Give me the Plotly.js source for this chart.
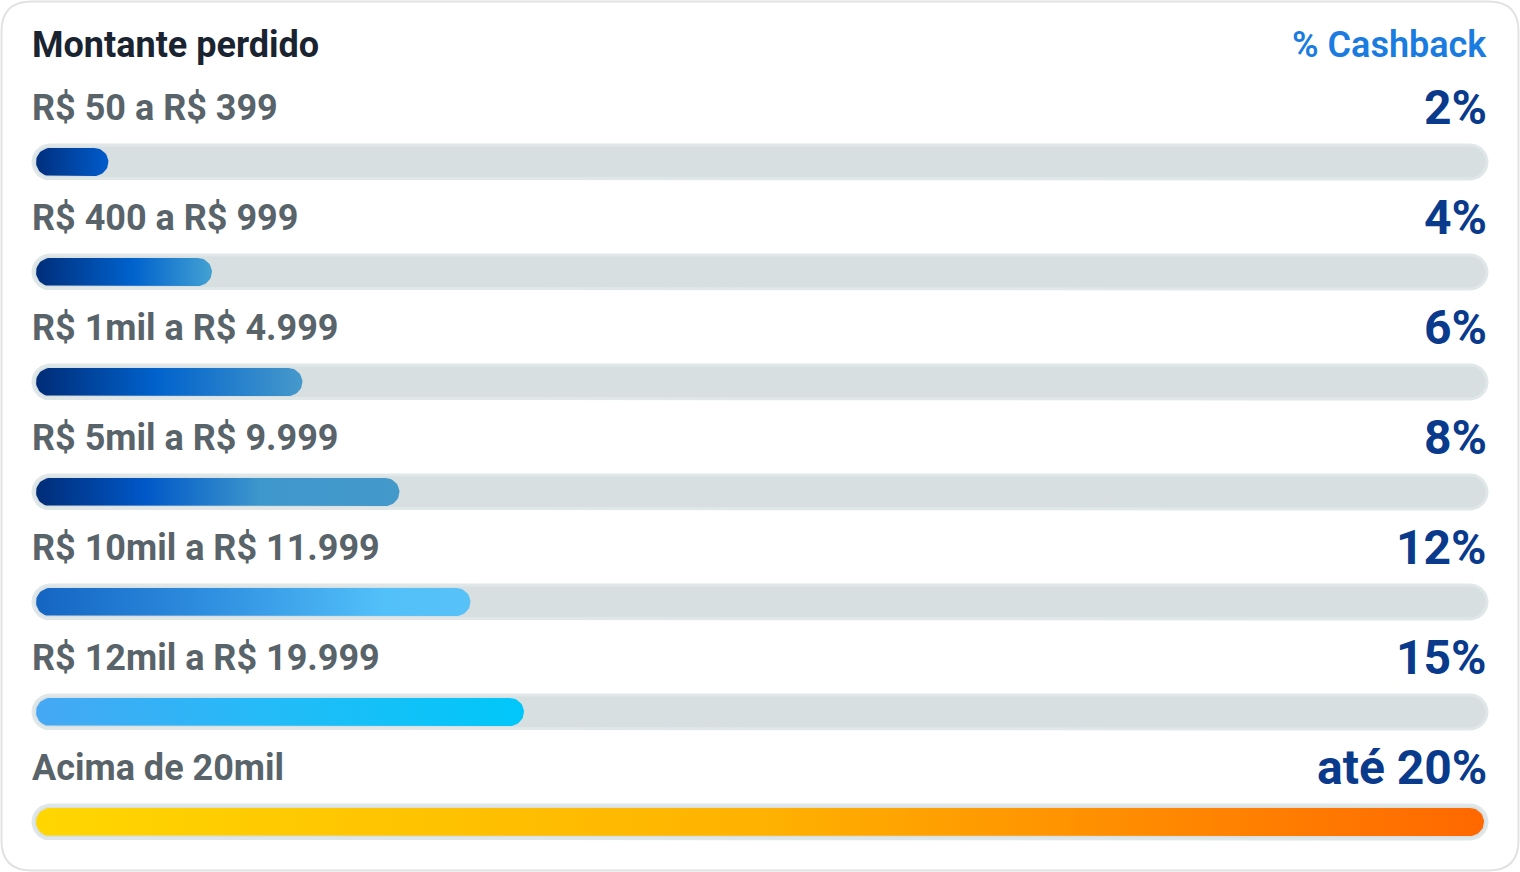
<!DOCTYPE html>
<html>
<head>
<meta charset="utf-8">
<script src="https://cdn.plot.ly/plotly-3.0.1.min.js"></script>
<style>
html,body{margin:0;padding:0;background:#ffffff;}
#chart{width:1520px;height:872px;}
</style>
</head>
<body>
<div id="chart"></div>
<script>
// ---- data ----
const categories = ['R$ 50 a R$ 399','R$ 400 a R$ 999','R$ 1mil a R$ 4.999','R$ 5mil a R$ 9.999','R$ 10mil a R$ 11.999','R$ 12mil a R$ 19.999','Acima de 20mil'];
const cashbackLabels = ['2%','4%','6%','8%','12%','15%','até 20%'];
const fillValues = [5.0, 12.15, 18.4, 25.1, 30.0, 33.7, 100];
const headerLeft = 'Montante perdido';
const headerRight = '% Cashback';
const barScales = [
  [[0,'#002f7e'],[1,'#005ccc']],
  [[0,'#002e7b'],[0.55,'#0062cd'],[1,'#43a1d2']],
  [[0,'#002c77'],[0.45,'#0062cc'],[1,'#4699cb']],
  [[0,'#002c77'],[0.3,'#0058c8'],[0.62,'#3e97cc'],[1,'#4499cb']],
  [[0,'#1465c2'],[0.4,'#2f8fe0'],[0.8,'#52c0f9'],[1,'#57c2f8']],
  [[0,'#46a8f5'],[0.5,'#22bcf8'],[1,'#00c7f9']],
  [[0,'#ffd600'],[0.5,'#ffb200'],[1,'#ff6800']]
];

// ---- geometry (layout) ----
const W = 1520, H = 872;
const x0px = 36, x1px = 1484;          // inner bar extent in pixels (0 and 100)
const padPx = 10;                      // extra plot area so track ends are not clipped
const row0px = 162, rowStep = 110;     // row centre pixels
const pxPerX = (x1px - x0px) / 100;
const padX = padPx / pxPerX;
const yTop = -row0px / rowStep, yBot = (H - row0px) / rowStep;
const pxPerY = rowStep;

function pill(xa, xb, yc, halfPx) {
  const ry = halfPx / pxPerY, rx = halfPx / pxPerX;
  const xs = [], ys = [];
  const n = 24;
  for (let k = 0; k <= n; k++) {
    const t = -Math.PI/2 + Math.PI * k / n;
    xs.push(xb - rx + rx * Math.cos(t)); ys.push(yc + ry * Math.sin(t));
  }
  for (let k = 0; k <= n; k++) {
    const t = Math.PI/2 + Math.PI * k / n;
    xs.push(xa + rx + rx * Math.cos(t)); ys.push(yc + ry * Math.sin(t));
  }
  xs.push(xs[0]); ys.push(ys[0]);
  return {xs, ys};
}

const traces = [];
const insetX = 3 / pxPerX;
categories.forEach((c, i) => {
  const tr = pill(-insetX, 100 + insetX, i, 17);
  traces.push({
    type:'scatter', mode:'lines', x: tr.xs, y: tr.ys, fill:'toself',
    fillcolor:'#d8dfe1', line:{color:'#e0e7e9', width:3}, hoverinfo:'skip', showlegend:false
  });
});
categories.forEach((c, i) => {
  const b = pill(0, fillValues[i], i, 14);
  traces.push({
    type:'scatter', mode:'lines', x: b.xs, y: b.ys, fill:'toself',
    fillgradient:{type:'horizontal', colorscale: barScales[i], start: 0, stop: fillValues[i]},
    line:{width:0, color:'rgba(0,0,0,0)'}, hoverinfo:'skip', showlegend:false, name: c
  });
});

const annotations = [];
annotations.push({xref:'paper', yref:'paper', x:30/W, y:1-45/H, xanchor:'left', yanchor:'middle',
  text: headerLeft, showarrow:false, font:{family:'Roboto', size:36, color:'#1a2330', weight:700}});
annotations.push({xref:'paper', yref:'paper', x:1489/W, y:1-45/H, xanchor:'right', yanchor:'middle',
  text: headerRight, showarrow:false, font:{family:'Roboto', size:36, color:'#1a7be0', weight:600}});
categories.forEach((c, i) => {
  annotations.push({xref:'paper', yref:'y', x:30/W, y:i - 54/rowStep, xanchor:'left', yanchor:'middle',
    text:c, showarrow:false, font:{family:'Roboto', size:36, color:'#59636a', weight:700}});
  annotations.push({xref:'paper', yref:'y', x:1489/W, y:i - 55/rowStep, xanchor:'right', yanchor:'middle',
    text:cashbackLabels[i], showarrow:false, font:{family:'Roboto', size:48, color:'#093a8c', weight:700}});
});

function roundRect(l, t, r, b, rad) {
  const X = p => (p / W).toFixed(5), Y = p => (1 - p / H).toFixed(5);
  return `M${X(l+rad)},${Y(t)} L${X(r-rad)},${Y(t)} Q${X(r)},${Y(t)} ${X(r)},${Y(t+rad)} ` +
         `L${X(r)},${Y(b-rad)} Q${X(r)},${Y(b)} ${X(r-rad)},${Y(b)} L${X(l+rad)},${Y(b)} ` +
         `Q${X(l)},${Y(b)} ${X(l)},${Y(b-rad)} L${X(l)},${Y(t+rad)} Q${X(l)},${Y(t)} ${X(l+rad)},${Y(t)} Z`;
}

const layout = {
  width: W, height: H,
  margin:{l:0, r:0, t:0, b:0},
  paper_bgcolor:'#ffffff', plot_bgcolor:'rgba(0,0,0,0)',
  xaxis:{domain:[(x0px - padPx)/W, (x1px + padPx)/W], range:[-padX, 100 + padX], visible:false, fixedrange:true},
  yaxis:{domain:[0,1], range:[yBot, yTop], visible:false, fixedrange:true},
  showlegend:false,
  annotations: annotations,
  shapes:[{type:'path', xref:'paper', yref:'paper', path: roundRect(1.5, 1.5, 1518.5, 870.5, 30),
    line:{color:'#e2e2e2', width:2}, fillcolor:'rgba(0,0,0,0)', layer:'below'}]
};

Plotly.newPlot('chart', traces, layout, {displayModeBar:false, staticPlot:true});
</script>
</body>
</html>
